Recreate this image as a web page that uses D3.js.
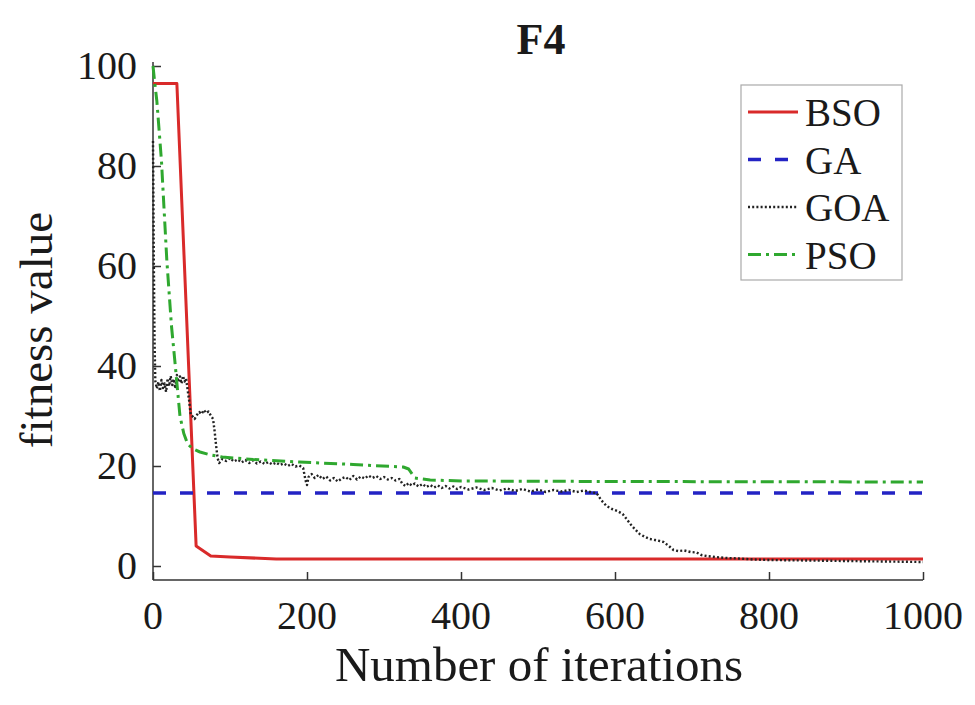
<!DOCTYPE html>
<html>
<head>
<meta charset="utf-8">
<script src="https://cdn.jsdelivr.net/npm/d3@7"></script>
<style>
    body { margin: 0; background: #fff; }
    svg text { font-family: "Liberation Serif", "Times New Roman", serif; fill: #1a1a1a; }
</style>
</head>
<body>
<svg id="chart" width="975" height="705"></svg>
<script>
/*globals d3*/

var bsoIter = [0, 31, 56, 75, 100, 160, 1000],
    bsoVal = [96.5, 96.5, 4, 2, 1.8, 1.4, 1.4];

var gaIter = [0, 1000],
    gaVal = [14.6, 14.6];

var goaIter = [0, 1, 2, 3, 5, 7, 9, 11, 13, 15, 17, 19, 21, 23, 25, 27, 29, 31, 33, 35, 37, 39, 41, 43, 45, 47, 49,
    51, 54, 57, 60, 63, 66, 69, 72, 75, 78, 80, 82, 84, 86, 90, 95, 100, 105, 110, 115, 120, 125, 130, 135,
    140, 145, 150, 155, 160, 165, 170, 175, 180, 185, 190, 195, 198, 200, 202, 206, 210, 215, 220, 225, 230,
    235, 240, 245, 250, 255, 260, 265, 270, 275, 280, 285, 290, 295, 300, 305, 310, 315, 320, 324, 328, 332,
    336, 340, 345, 350, 355, 360, 365, 370, 375, 380, 385, 390, 395, 400, 410, 420, 430, 440, 450, 460, 470,
    480, 490, 500, 510, 520, 530, 540, 550, 560, 570, 576, 582, 589, 596, 603, 610, 616, 622, 627, 632, 638,
    645, 652, 658, 663, 670, 676, 682, 690, 698, 706, 712, 719, 730, 745, 760, 780, 800, 850, 900, 950, 1000],
    goaVal = [85, 62, 45, 37, 35.5, 36.8, 35, 37.2, 35.6, 36.5, 34.8, 37.5, 36, 38, 36.2, 37.4, 35.5, 38.2, 36.8,
    37.9, 36.5, 38, 36.9, 37.5, 35.2, 33, 30.2, 30, 29.4, 30.2, 30.8, 30.4, 31.2, 30.6, 30.9, 30.1, 29.4, 27,
    24, 21.5, 20.6, 21.4, 21, 21.6, 20.9, 21.3, 20.7, 21.2, 20.6, 21.1, 20.5, 20.9, 20.4, 20.8, 20.3, 20.7,
    20.2, 20.5, 20, 20.4, 19.9, 20.1, 19.6, 17.2, 16.2, 17.8, 18.4, 17.6, 18.2, 17.4, 17.9, 17.1, 17.6, 16.9,
    17.5, 17.8, 17.2, 18, 17.3, 17.9, 17.5, 18.1, 17.6, 18, 17.4, 17.8, 17.3, 17.6, 17.1, 17.4, 16.4, 16,
    16.6, 16.1, 16.5, 15.9, 16.4, 15.8, 16.2, 15.7, 16.1, 15.6, 16, 15.5, 15.9, 15.4, 15.8, 15.3, 15.7, 15.2,
    15.6, 15.1, 15.5, 15, 15.4, 14.9, 15.3, 14.8, 15.2, 14.9, 15.2, 14.8, 15.1, 14.7, 14.6, 13.2, 12, 11.4,
    11, 10.4, 9.2, 8, 7.2, 6.4, 5.9, 5.4, 5.2, 5, 4.8, 4, 3.2, 3, 3.1, 2.8, 2.7, 2.2, 2, 1.8, 1.6, 1.5, 1.3,
    1.2, 1.1, 1.0, 0.9, 0.8];

var psoIter = [0, 2, 5, 11, 18, 24, 29, 35, 40, 45, 52, 61, 75, 90, 130, 190, 260, 325, 332, 340, 360, 400, 600, 1000],
    psoVal = [100, 97, 93, 81, 61, 48, 40, 30, 26.5, 24.4, 23.4, 22.8, 22.2, 21.8, 21.3, 20.8, 20.3, 19.8, 19.4,
    17.6, 17.2, 17.0, 16.9, 16.8];

var xTicks = [0, 200, 400, 600, 800, 1000],
    yTicks = [0, 20, 40, 60, 80, 100];

(function () {
    "use strict";

    var svg = d3.select("#chart"),
        x,
        y,
        line,
        series,
        legend;

    x = d3.scaleLinear().domain([0, 1000]).range([153, 923]);
    y = d3.scaleLinear().domain([-2.8, 100]).range([580, 66]);

    line = d3.line()
        .x(function (d) { return x(d[0]); })
        .y(function (d) { return y(d[1]); });

    function pairs(a, b) {
        return a.map(function (v, i) { return [v, b[i]]; });
    }

    series = [
        {name: "BSO", data: pairs(bsoIter, bsoVal), color: "#d92a2a", width: 3, dash: null},
        {name: "GA", data: pairs(gaIter, gaVal), color: "#2323c4", width: 3.5, dash: "13,14"},
        {name: "GOA", data: pairs(goaIter, goaVal), color: "#222", width: 2.4, dash: "2,2.2"},
        {name: "PSO", data: pairs(psoIter, psoVal), color: "#2fa82f", width: 3, dash: "13,5,3,5"}
    ];

    // axes, matlab style: ticks pointing inward
    svg.append("g")
        .attr("transform", "translate(0," + y.range()[0] + ")")
        .call(d3.axisTop(x).tickValues(xTicks).tickSize(8).tickFormat(""))
        .call(function (g) {
            g.select(".domain").attr("d", "M" + x.range()[0] + ",0H" + x.range()[1]);
        });
    svg.append("g")
        .attr("transform", "translate(" + x.range()[0] + ",0)")
        .call(d3.axisRight(y).tickValues(yTicks).tickSize(8).tickFormat(""))
        .call(function (g) {
            g.select(".domain").attr("d", "M0," + y.range()[0] + "V" + (y.range()[1] - 4));
        });
    svg.selectAll(".domain, .tick line")
        .attr("stroke", "#333")
        .attr("stroke-width", 1.5);

    svg.append("g").selectAll("text").data(xTicks)
        .enter().append("text")
        .attr("x", function (d) { return x(d); })
        .attr("y", 629)
        .attr("text-anchor", "middle")
        .style("font-size", "40px")
        .text(function (d) { return d; });
    svg.append("g").selectAll("text").data(yTicks)
        .enter().append("text")
        .attr("x", 137)
        .attr("y", function (d) { return y(d) + 13; })
        .attr("text-anchor", "end")
        .style("font-size", "40px")
        .text(function (d) { return d; });

    svg.append("g").selectAll("path").data(series)
        .enter().append("path")
        .attr("fill", "none")
        .attr("stroke", function (d) { return d.color; })
        .attr("stroke-width", function (d) { return d.width; })
        .attr("stroke-dasharray", function (d) { return d.dash; })
        .attr("stroke-linejoin", "round")
        .attr("d", function (d) { return line(d.data); });

    svg.append("text")
        .attr("x", 541)
        .attr("y", 54)
        .attr("text-anchor", "middle")
        .style("font-size", "44px")
        .style("font-weight", "bold")
        .text("F4");
    svg.append("text")
        .attr("x", 539)
        .attr("y", 681)
        .attr("text-anchor", "middle")
        .style("font-size", "49px")
        .text("Number of iterations");
    svg.append("text")
        .attr("transform", "translate(52,330) rotate(-90)")
        .attr("text-anchor", "middle")
        .style("font-size", "47px")
        .text("fitness value");

    legend = svg.append("g");
    legend.append("rect")
        .attr("x", 741)
        .attr("y", 85)
        .attr("width", 161)
        .attr("height", 195)
        .attr("fill", "#fff")
        .attr("stroke", "#aaa")
        .attr("stroke-width", 1.2);
    legend.selectAll("g.item").data(series)
        .enter().append("g")
        .attr("class", "item")
        .attr("transform", function (d, i) { return "translate(0," + (112 + i * 47.5) + ")"; })
        .each(function (d) {
            var g = d3.select(this);
            g.append("line")
                .attr("x1", 748)
                .attr("x2", 798)
                .attr("stroke", d.color)
                .attr("stroke-width", d.width)
                .attr("stroke-dasharray", d.dash);
            g.append("text")
                .attr("x", 805)
                .attr("y", 14)
                .style("font-size", "39px")
                .text(d.name);
        });
}());
</script>
</body>
</html>
